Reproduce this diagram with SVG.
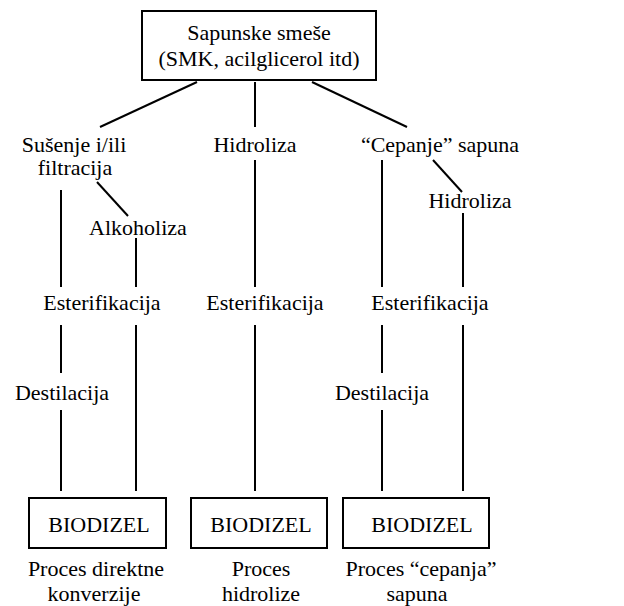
<svg xmlns="http://www.w3.org/2000/svg" width="624" height="606" viewBox="0 0 624 606">
<style>
text{font-family:"Liberation Serif","DejaVu Serif","Times New Roman",serif;font-size:22px;fill:#000;text-anchor:middle}
.box{fill:#fff;stroke:#000;stroke-width:2}
.c line{stroke:#000;stroke-width:2}
</style>
<rect width="624" height="606" fill="#fff"/>
<g class="c" id="connectors">
<line x1="197" y1="82" x2="100" y2="127"/>
<line x1="255" y1="82" x2="255" y2="127"/>
<line x1="312" y1="82" x2="407" y2="127"/>
<line x1="61" y1="190" x2="61" y2="287"/>
<line x1="97" y1="182" x2="128" y2="216"/>
<line x1="136" y1="238" x2="136" y2="287"/>
<line x1="255" y1="160" x2="255" y2="287"/>
<line x1="382" y1="160" x2="382" y2="287"/>
<line x1="433" y1="160" x2="462" y2="192"/>
<line x1="463" y1="213" x2="463" y2="287"/>
<line x1="61" y1="325" x2="61" y2="373"/>
<line x1="61" y1="410" x2="61" y2="491"/>
<line x1="136" y1="325" x2="136" y2="491"/>
<line x1="255" y1="325" x2="255" y2="491"/>
<line x1="382" y1="325" x2="382" y2="373"/>
<line x1="382" y1="410" x2="382" y2="491"/>
<line x1="463" y1="325" x2="463" y2="491"/>
</g>
<g font-family="Liberation Serif, DejaVu Serif, serif">
<g id="top">
<rect class="box" x="142" y="11" width="234" height="69"/>
<text x="259" y="40">Sapunske smeše</text>
<text x="259" y="66">(SMK, acilglicerol itd)</text>
</g>
<g id="susenje"><text x="74" y="152">Sušenje i/ili</text><text x="75" y="175">filtracija</text></g>
<g id="hidroliza1"><text x="255" y="152">Hidroliza</text></g>
<g id="cepanje"><text x="440" y="152">“Cepanje” sapuna</text></g>
<g id="hidroliza2"><text x="470" y="208">Hidroliza</text></g>
<g id="alkoholiza"><text x="138" y="235">Alkoholiza</text></g>
<g id="ester1"><text x="102" y="310">Esterifikacija</text></g>
<g id="ester2"><text x="265" y="310">Esterifikacija</text></g>
<g id="ester3"><text x="430" y="310">Esterifikacija</text></g>
<g id="destil1"><text x="62" y="400">Destilacija</text></g>
<g id="destil2"><text x="382" y="400">Destilacija</text></g>
<g id="bio1"><rect class="box" x="29" y="498" width="137" height="50"/><text x="99" y="532">BIODIZEL</text></g>
<g id="bio2"><rect class="box" x="191" y="498" width="136" height="50"/><text x="261" y="532">BIODIZEL</text></g>
<g id="bio3"><rect class="box" x="343" y="498" width="146" height="50"/><text x="422" y="532">BIODIZEL</text></g>
<g id="label1"><text x="96" y="576">Proces direktne</text><text x="94" y="601">konverzije</text></g>
<g id="label2"><text x="261" y="576">Proces</text><text x="261" y="601">hidrolize</text></g>
<g id="label3"><text x="421" y="576">Proces “cepanja”</text><text x="417" y="601">sapuna</text></g>
</g>
</svg>
